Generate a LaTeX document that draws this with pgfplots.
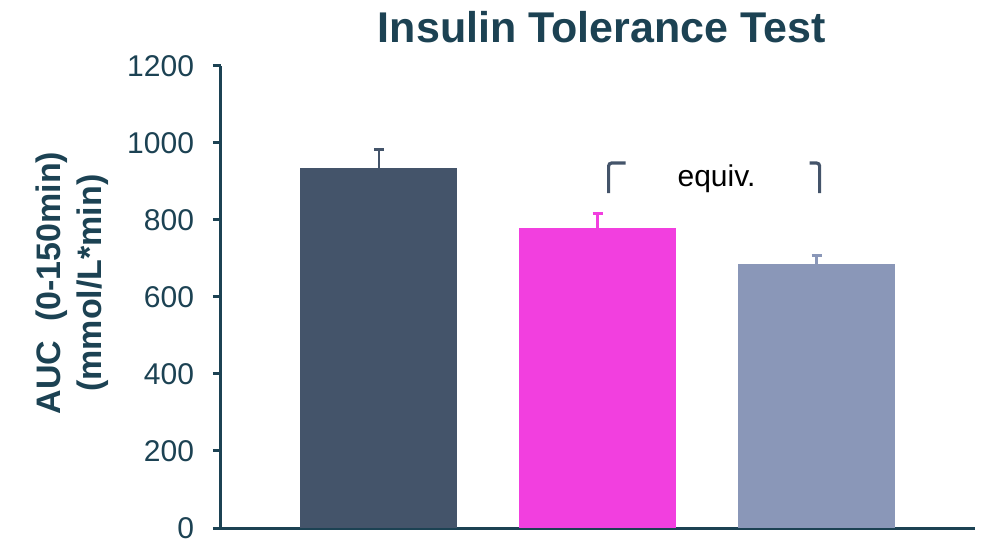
\documentclass[border=0pt]{standalone}
\usepackage{pgfplots}
\pgfplotsset{compat=1.18}
\usepackage{fontspec}
\setmainfont{Liberation Sans}

\definecolor{axisteal}{HTML}{1C4253}
\definecolor{slate}{HTML}{44546A}
\definecolor{magenta}{HTML}{F23FDF}
\definecolor{lavender}{HTML}{8A97B8}

\begin{document}
\begin{tikzpicture}
\begin{axis}[
  scale only axis,
  width=377bp, height=231bp,
  xmin=-0.721, xmax=2.724,
  ymin=0, ymax=1200,
  ytick={0,200,...,1200},
  xtick=\empty,
  axis x line*=bottom,
  axis y line*=left,
  axis line style={axisteal, line width=1.5bp},
  y axis line style={-}, x axis line style={-},
  tick align=outside,
  major tick length=4bp,
  tick style={axisteal, line width=1.5bp},
  yticklabel style={font=\fontsize{15bp}{18bp}\selectfont, text=axisteal, xshift=-6bp},
  /pgf/number format/assume math mode=true,
  /pgf/number format/1000 sep={},
  clip=false,
]
\addplot[ybar, bar shift=0pt, bar width=78.5bp, fill=slate, draw=none,
  error bars/.cd, y dir=plus, y explicit,
  error bar style={slate, line width=1.3bp},
  error mark options={rotate=90, slate, line width=1.5bp, mark size=2.5bp}]
  coordinates {(0,935) +- (0,49)};
\addplot[ybar, bar shift=0pt, bar width=78.5bp, fill=magenta, draw=none,
  error bars/.cd, y dir=plus, y explicit,
  error bar style={magenta, line width=1.3bp},
  error mark options={rotate=90, magenta, line width=1.5bp, mark size=2.5bp}]
  coordinates {(1,779) +- (0,39)};
\addplot[ybar, bar shift=0pt, bar width=78.5bp, fill=lavender, draw=none,
  error bars/.cd, y dir=plus, y explicit,
  error bar style={lavender, line width=1.3bp},
  error mark options={rotate=90, lavender, line width=1.5bp, mark size=2.5bp}]
  coordinates {(2,686) +- (0,23)};

% equivalence bracket
\draw[slate, line width=1.6bp, rounded corners=1.5bp]
  (axis cs:1.050,870) -- (axis cs:1.050,948) -- (axis cs:1.128,948);
\draw[slate, line width=1.6bp, rounded corners=1.5bp]
  (axis cs:2.014,870) -- (axis cs:2.014,948) -- (axis cs:1.968,948);
\node[anchor=base, font=\fontsize{15bp}{18bp}\selectfont] at (axis cs:1.543,888) {equiv.};

\node[anchor=base, font=\fontsize{21.5bp}{26bp}\selectfont\bfseries, text=axisteal]
  at (rel axis cs:0.505,1) [yshift=11.5bp] {Insulin Tolerance Test};
\node[rotate=90, align=center, font=\fontsize{17bp}{20.5bp}\selectfont\bfseries, text=axisteal]
  at (rel axis cs:-0.1976,0.53) {AUC\ \ (0-150min)\\(mmol/L*min)};
\end{axis}
\pgfresetboundingbox
\path[use as bounding box] (-110.5bp,-7.5bp) rectangle (384bp,264bp);
\end{tikzpicture}
\end{document}
